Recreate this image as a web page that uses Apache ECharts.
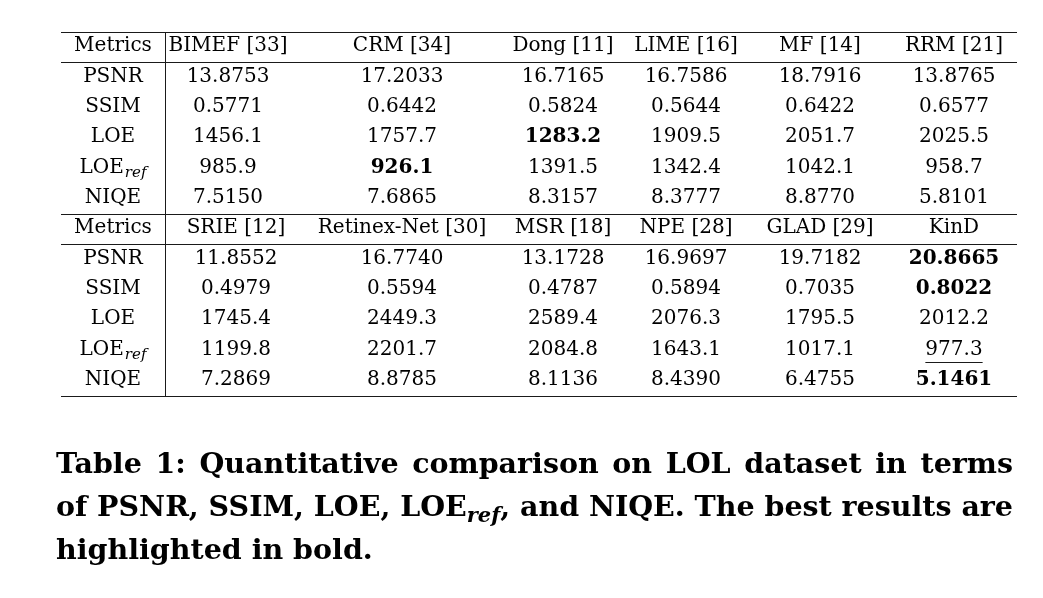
<!DOCTYPE html>
<html><head><meta charset="utf-8">
<script src="https://cdn.jsdelivr.net/npm/echarts@6/dist/echarts.min.js"></script>
<style>html,body{margin:0;padding:0;background:#fff}#c{width:1043px;height:598px}</style>
</head><body><div id="c"></div>
<script>
// ---------------- DATA ----------------
const metrics = ['PSNR', 'SSIM', 'LOE', 'LOEref', 'NIQE'];
const decimals = [4, 4, 1, 1, 4];
const higherBetter = [true, true, false, false, false];

const methodsA = ['BIMEF [33]', 'CRM [34]', 'Dong [11]', 'LIME [16]', 'MF [14]', 'RRM [21]'];
const psnrA   = [13.8753, 17.2033, 16.7165, 16.7586, 18.7916, 13.8765];
const ssimA   = [0.5771, 0.6442, 0.5824, 0.5644, 0.6422, 0.6577];
const loeA    = [1456.1, 1757.7, 1283.2, 1909.5, 2051.7, 2025.5];
const loerefA = [985.9, 926.1, 1391.5, 1342.4, 1042.1, 958.7];
const niqeA   = [7.5150, 7.6865, 8.3157, 8.3777, 8.8770, 5.8101];

const methodsB = ['SRIE [12]', 'Retinex-Net [30]', 'MSR [18]', 'NPE [28]', 'GLAD [29]', 'KinD'];
const psnrB   = [11.8552, 16.7740, 13.1728, 16.9697, 19.7182, 20.8665];
const ssimB   = [0.4979, 0.5594, 0.4787, 0.5894, 0.7035, 0.8022];
const loeB    = [1745.4, 2449.3, 2589.4, 2076.3, 1795.5, 2012.2];
const loerefB = [1199.8, 2201.7, 2084.8, 1643.1, 1017.1, 977.3];
const niqeB   = [7.2869, 8.8785, 8.1136, 8.4390, 6.4755, 5.1461];

const underlined = [{ block: 1, metric: 3, method: 5 }];

const captionLines = [
  'Table 1: Quantitative comparison on LOL dataset in terms',
  'of PSNR, SSIM, LOE, LOE_ref, and NIQE. The best results are',
  'highlighted in bold.'
];

// ---------------- LAYOUT / STYLE ----------------
const FONT = 'DejaVu Serif';
const FS = 20;
const colCenters = [[113, 228, 402, 563, 686, 820, 954], [113, 236, 402, 563, 686, 820, 954]];
const tableLeft = 61, tableRight = 1017, sepX = 165;
const ROWS = 12;
const ruleRows = [0, 1, 6, 7, 12];
const LINE_COLOR = '#1a1a1a';

const blocks = [
  { methods: methodsA, values: [psnrA, ssimA, loeA, loerefA, niqeA] },
  { methods: methodsB, values: [psnrB, ssimB, loeB, loerefB, niqeB] }
];

const best = metrics.map((m, i) => {
  const all = blocks[0].values[i].concat(blocks[1].values[i]);
  return higherBetter[i] ? Math.max(...all) : Math.min(...all);
});

const cv = document.createElement('canvas').getContext('2d');
function tw(text, font) { cv.font = font; return cv.measureText(text).width; }

function metricLabel(m) {
  return m === 'LOEref' ? '{m|LOE}{s|ref}' : '{m|' + m + '}';
}

const cells = [];
blocks.forEach((blk, b) => {
  const base = b * 6;
  const cc = colCenters[b];
  cells.push({ value: [cc[0], base + 0.5], label: { formatter: '{m|Metrics}' } });
  blk.methods.forEach((name, j) => {
    cells.push({ value: [cc[j + 1], base + 0.5], label: { formatter: '{m|' + name + '}' } });
  });
  metrics.forEach((m, i) => {
    const y = base + 1 + i + 0.5;
    cells.push({ value: [cc[0], y], label: { formatter: metricLabel(m) } });
    blk.values[i].forEach((v, j) => {
      const isBest = v === best[i];
      const txt = v.toFixed(decimals[i]);
      cells.push({ value: [cc[j + 1], y], label: { formatter: (isBest ? '{b|' : '{m|') + txt + '}' } });
    });
  });
});

// ---------------- CAPTION ----------------
const CFS = 28.5;
const SFS = 21;
const capFont = 'bold ' + CFS + 'px "' + FONT + '"';
const subFont = 'italic bold ' + SFS + 'px "' + FONT + '"';
const capLeft = 56, capRight = 1013;
const capBaselines = [476, 519, 562];
const capRich = {
  a: { fontFamily: FONT, fontWeight: 'bold', fontSize: CFS, fill: '#000' },
  s: { fontFamily: FONT, fontWeight: 'bold', fontStyle: 'italic', fontSize: SFS, fill: '#000', padding: [15, 0, 0, 0] }
};
const captionGraphics = [];
captionLines.forEach((line, li) => {
  const words = line.split(' ');
  const toks = words.map(w => {
    if (w.indexOf('_') >= 0) {
      const [main, rest] = w.split('_');
      const sub = rest.replace(/[^a-z]/g, '');
      const tail = rest.slice(sub.length);
      return { rich: '{a|' + main + '}{s|' + sub + '}{a|' + tail + '}',
               w: tw(main, capFont) + tw(sub, subFont) + tw(tail, capFont) };
    }
    return { rich: '{a|' + w + '}', w: tw(w, capFont) };
  });
  const sum = toks.reduce((s, t) => s + t.w, 0);
  const justify = li < captionLines.length - 1;
  const gap = justify ? (capRight - capLeft - sum) / (toks.length - 1) : tw(' ', capFont);
  let x = capLeft;
  toks.forEach(t => {
    captionGraphics.push({
      type: 'text', x: x, y: capBaselines[li] - 10,
      style: { text: t.rich, rich: capRich, font: capFont, fill: '#000', verticalAlign: 'middle', align: 'left' },
      silent: true
    });
    x += t.w + gap;
  });
});

// ---------------- CHART ----------------
const chart = echarts.init(document.getElementById('c'), null, { renderer: 'canvas' });
chart.setOption({
  animation: false,
  backgroundColor: '#fff',
  grid: { left: 0, right: 0, top: 32, height: 364 },
  xAxis: { type: 'value', min: 0, max: 1043, show: false },
  yAxis: { type: 'value', min: 0, max: ROWS, inverse: true, show: false },
  series: [
    {
      type: 'scatter', symbolSize: 0, silent: true, data: cells,
      itemStyle: { opacity: 1 },
      label: {
        show: true, position: 'inside', color: '#000', opacity: 1, offset: [0, -1],
        rich: {
          m: { fontFamily: FONT, fontSize: FS, color: '#000' },
          b: { fontFamily: FONT, fontSize: FS, fontWeight: 'bold', color: '#000' },
          s: { fontFamily: FONT, fontSize: 15, fontStyle: 'italic', color: '#000', padding: [12, 0, 0, 1] }
        }
      }
    }
  ],
  graphic: captionGraphics
});

// rules, placed through the chart's own scales, snapped to pixels
function px(x, y) { return chart.convertToPixel({ gridIndex: 0 }, [x, y]); }
function snap(v) { return Math.round(v - 0.5) + 0.5; }
const ruleGraphics = [];
ruleRows.forEach(r => {
  const p1 = px(tableLeft, r), p2 = px(tableRight, r);
  const y = snap(p1[1]);
  ruleGraphics.push({ type: 'line', silent: true, shape: { x1: p1[0], y1: y, x2: p2[0], y2: y },
    style: { stroke: LINE_COLOR, lineWidth: 1 } });
});
{
  const p1 = px(sepX, 0), p2 = px(sepX, ROWS);
  const x = snap(p1[0]);
  ruleGraphics.push({ type: 'line', silent: true, shape: { x1: x, y1: snap(p1[1]), x2: x, y2: snap(p2[1]) },
    style: { stroke: LINE_COLOR, lineWidth: 1 } });
}
underlined.forEach(u => {
  const blk = blocks[u.block];
  const txt = blk.values[u.metric][u.method].toFixed(decimals[u.metric]);
  const w = tw(txt, FS + 'px "' + FONT + '"');
  const cx = colCenters[u.block][u.method + 1];
  const row = u.block * 6 + 1 + u.metric + 0.88;
  const p1 = px(cx - w / 2, row), p2 = px(cx + w / 2, row);
  const y = snap(p1[1]);
  ruleGraphics.push({ type: 'line', silent: true, shape: { x1: p1[0], y1: y, x2: p2[0], y2: y },
    style: { stroke: LINE_COLOR, lineWidth: 1 } });
});
chart.setOption({ graphic: captionGraphics.concat(ruleGraphics) }, { replaceMerge: ['graphic'] });
</script>
</body></html>
